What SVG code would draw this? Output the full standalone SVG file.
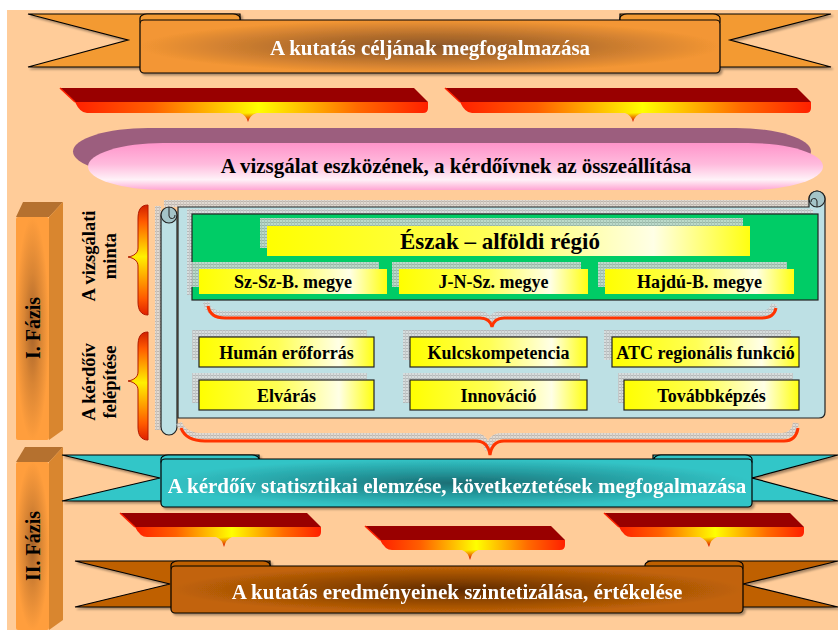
<svg xmlns="http://www.w3.org/2000/svg" width="838" height="633" viewBox="0 0 838 633">
<defs>
  <pattern id="tex" width="3" height="3" patternUnits="userSpaceOnUse">
    <rect width="3" height="3" fill="#DCDCDC"/>
    <rect width="3" height="1" fill="#B2B2B2"/>
    <rect width="1" height="3" fill="#C4C4C4"/>
  </pattern>
  <radialGradient id="gOrange" cx="0.5" cy="0.5" r="0.5">
    <stop offset="0" stop-color="#8A5628"/>
    <stop offset="0.45" stop-color="#B46E2C"/>
    <stop offset="1" stop-color="#F39634"/>
  </radialGradient>
  <radialGradient id="gTeal" cx="0.5" cy="0.5" r="0.5">
    <stop offset="0" stop-color="#1A6E74"/>
    <stop offset="0.45" stop-color="#24979B"/>
    <stop offset="1" stop-color="#33C4C6"/>
  </radialGradient>
  <radialGradient id="gBrown" cx="0.5" cy="0.5" r="0.5">
    <stop offset="0" stop-color="#5E2A00"/>
    <stop offset="0.45" stop-color="#8E4502"/>
    <stop offset="1" stop-color="#C26408"/>
  </radialGradient>
  <radialGradient id="gPhase" cx="0.5" cy="0.5" r="0.5">
    <stop offset="0" stop-color="#A5622A"/>
    <stop offset="0.5" stop-color="#D98534"/>
    <stop offset="1" stop-color="#FF9E3D"/>
  </radialGradient>
  <linearGradient id="gPink" x1="0" y1="0" x2="0" y2="1">
    <stop offset="0" stop-color="#FF94CA"/>
    <stop offset="0.45" stop-color="#FFBBDD"/>
    <stop offset="0.78" stop-color="#FFF2F8"/>
    <stop offset="1" stop-color="#FFA6D3"/>
  </linearGradient>
  <linearGradient id="gYellow" x1="0" y1="0" x2="1" y2="0">
    <stop offset="0" stop-color="#FFFF00"/>
    <stop offset="0.45" stop-color="#FFFF55"/>
    <stop offset="0.8" stop-color="#FFFFE6"/>
    <stop offset="1" stop-color="#FFFF10"/>
  </linearGradient>
  <linearGradient id="gBarF" x1="0" y1="0" x2="1" y2="0">
    <stop offset="0" stop-color="#FF2000"/>
    <stop offset="0.22" stop-color="#FF6000"/>
    <stop offset="0.52" stop-color="#FFFF00"/>
    <stop offset="0.8" stop-color="#FF6A00"/>
    <stop offset="1" stop-color="#FF2000"/>
  </linearGradient>
  <linearGradient id="gPtr" x1="0" y1="0" x2="0" y2="1">
    <stop offset="0" stop-color="#FFEE00"/>
    <stop offset="1" stop-color="#D80000"/>
  </linearGradient>
  <linearGradient id="gBrace" x1="0" y1="0" x2="0" y2="1">
    <stop offset="0" stop-color="#D02000"/>
    <stop offset="0.15" stop-color="#FF5A00"/>
    <stop offset="0.47" stop-color="#FFF000"/>
    <stop offset="0.85" stop-color="#FF5A00"/>
    <stop offset="1" stop-color="#E02000"/>
  </linearGradient>
  <filter id="ds" x="-5%" y="-10%" width="110%" height="130%">
    <feDropShadow dx="2" dy="2" stdDeviation="1" flood-color="#000" flood-opacity="0.35"/>
  </filter>
  <style>
    .otail{fill:#F39A33;stroke:#000;stroke-width:1.2}
    .ttail{fill:#33C6C8;stroke:#000;stroke-width:1.2}
    .btail{fill:#BF6100;stroke:#000;stroke-width:1.2}
    .rtxt{font-family:"Liberation Serif","Times New Roman",serif;font-weight:bold;font-size:21px;fill:#FFFFFF;text-anchor:middle}
    .btxt{font-family:"Liberation Serif","Times New Roman",serif;font-weight:bold;font-size:18px;fill:#000;text-anchor:middle}
    .ltxt{font-family:"Liberation Serif","Times New Roman",serif;font-weight:bold;font-size:18.5px;fill:#000;text-anchor:middle}
    .ptxt{font-family:"Liberation Serif","Times New Roman",serif;font-weight:bold;font-size:20px;fill:#000;text-anchor:middle}
    .ybox{fill:url(#gYellow)}
    .ybox2{fill:url(#gYellow);stroke:#222;stroke-width:1.2}
    .shd{fill:url(#tex);opacity:0.85}
    .topf{fill:#990000}
    .frontf{fill:url(#gBarF)}
    .ptr{fill:url(#gPtr)}
    .brace{fill:none;stroke:#FF3300;stroke-width:3}
    .braceS{fill:none;stroke:url(#tex);stroke-width:6;opacity:0.85}
    .obrace{fill:url(#gBrace);stroke:#B01800;stroke-width:1}
  </style>
</defs>

<rect x="0" y="0" width="838" height="633" fill="#FFFFFF"/>
<rect x="7" y="10" width="831" height="620" fill="#FFCC99"/>

<!-- top ribbon -->
<g id="n-cel" filter="url(#ds)">
  <polygon class="otail" points="28,14 240,14 240,67 28,67 128,40"/>
  <polygon class="otail" points="831,14 620,14 620,67 831,67 730,40"/>
  <rect class="otail" x="140" y="14" width="100" height="12" rx="7" ry="4"/>
  <rect class="otail" x="620" y="14" width="100" height="12" rx="7" ry="4"/>
  <rect x="140" y="20" width="580" height="53" rx="4" fill="url(#gOrange)" stroke="#000" stroke-width="1.2"/>
  <text class="rtxt" x="430" y="55">A kutatás céljának megfogalmazása</text>
</g>

<!-- pink -->
<g id="n-eszkoz">
  <rect x="73" y="128" width="738" height="47" rx="75" ry="23.5" fill="#9C5E7E"/>
  <rect x="88" y="143" width="735" height="47" rx="75" ry="23.5" fill="url(#gPink)"/>
  <text class="ltxt" style="font-size:21px" x="456" y="173">A vizsgálat eszközének, a kérdőívnek az összeállítása</text>
</g>

<!-- phase bars -->
<g id="n-fazis1">
  <polygon points="16,217 23,202 63,202 49,217" fill="#B5712F"/>
  <polygon points="49,217 63,202 63,430 49,440" fill="#D9862F"/>
  <rect x="16" y="217" width="33" height="223" rx="2" fill="url(#gPhase)"/>
  <text class="ptxt" transform="translate(40,328) rotate(-90)">I. Fázis</text>
</g>
<g id="n-fazis2">
  <polygon points="16,462 25,447 63,447 49,462" fill="#B5712F"/>
  <polygon points="49,462 63,447 63,620 49,630" fill="#D9862F"/>
  <rect x="16" y="462" width="33" height="168" rx="2" fill="url(#gPhase)"/>
  <text class="ptxt" transform="translate(40,546) rotate(-90)">II. Fázis</text>
</g>

<!-- side labels -->
<g id="n-minta">
  <text class="ltxt" transform="translate(95,256) rotate(-90)">A vizsgálati</text>
  <text class="ltxt" transform="translate(116,256) rotate(-90)">minta</text>
</g>
<g id="n-felepites">
  <text class="ltxt" transform="translate(95,382) rotate(-90)">A kérdőív</text>
  <text class="ltxt" transform="translate(116,382) rotate(-90)">felépítése</text>
</g>

<!-- scroll -->
<g id="n-scroll">
  <rect class="shd" x="164" y="200" width="650" height="7"/>
  <rect class="shd" x="155" y="206" width="6" height="224"/>
  <path d="M178,207 L809,207 L809,199 A8,8 0 0 1 825,199 L825,412 Q825,418 819,418 L178,418 Z" fill="#BDE0E4" stroke="#222" stroke-width="1.2"/>
  <circle cx="817" cy="199" r="8" fill="#A4C4C8" stroke="#222" stroke-width="1.2"/>
  <path d="M817,207 L817,201 A3,3 0 0 0 811,202" fill="none" stroke="#222" stroke-width="1"/>
  <path d="M161,215 L161,427 A8,8 0 0 0 177,427 L177,215 Z" fill="#BDE0E4" stroke="#222" stroke-width="1.2"/>
  <circle cx="169" cy="215" r="8" fill="#A4C4C8" stroke="#222" stroke-width="1.2"/>
  <path d="M169,207 L169,216 A3,3 0 0 0 175,215" fill="none" stroke="#222" stroke-width="1"/>
</g>

<!-- green region -->
<g id="n-region">
  <rect class="shd" x="187" y="209" width="626" height="86"/>
  <rect x="192" y="214" width="626" height="86" fill="#00CC66" stroke="#222" stroke-width="1.2"/>
</g>
<g id="n-eszak">
  <rect class="shd" x="260" y="218" width="483" height="30"/>
  <rect class="ybox" x="267" y="226" width="483" height="30"/>
  <text class="btxt" style="font-size:23px" x="500" y="249">Észak – alföldi régió</text>
</g>
<g id="n-szszb">
  <rect class="shd" x="191" y="262" width="188" height="25"/>
  <rect class="ybox" x="199" y="269" width="188" height="25"/>
  <text class="btxt" x="293" y="288">Sz-Sz-B. megye</text>
</g>
<g id="n-jnsz">
  <rect class="shd" x="392" y="262" width="189" height="25"/>
  <rect class="ybox" x="399" y="269" width="189" height="25"/>
  <text class="btxt" x="493.5" y="288">J-N-Sz. megye</text>
</g>
<g id="n-hajdu">
  <rect class="shd" x="598" y="262" width="189" height="25"/>
  <rect class="ybox" x="605" y="269" width="189" height="25"/>
  <text class="btxt" x="699.5" y="288">Hajdú-B. megye</text>
</g>

<g id="n-human">
  <rect class="shd" x="192" y="330" width="175" height="30"/>
  <rect class="ybox2" x="199" y="337" width="175" height="30"/>
  <text class="btxt" x="286.5" y="358.5">Humán erőforrás</text>
</g>
<g id="n-kulcs">
  <rect class="shd" x="403" y="330" width="177" height="30"/>
  <rect class="ybox2" x="410" y="337" width="177" height="30"/>
  <text class="btxt" x="498.5" y="358.5">Kulcskompetencia</text>
</g>
<g id="n-atc">
  <rect class="shd" x="604" y="330" width="187" height="30"/>
  <rect class="ybox2" x="612" y="337" width="187" height="30"/>
  <text class="btxt" x="705.5" y="358.5">ATC regionális funkció</text>
</g>
<g id="n-elvaras">
  <rect class="shd" x="192" y="373" width="175" height="30"/>
  <rect class="ybox2" x="199" y="380" width="175" height="30"/>
  <text class="btxt" x="286.5" y="401.5">Elvárás</text>
</g>
<g id="n-innovacio">
  <rect class="shd" x="403" y="373" width="177" height="30"/>
  <rect class="ybox2" x="410" y="380" width="177" height="30"/>
  <text class="btxt" x="498.5" y="401.5">Innováció</text>
</g>
<g id="n-tovabb">
  <rect class="shd" x="618" y="373" width="175" height="30"/>
  <rect class="ybox2" x="624" y="380" width="175" height="30"/>
  <text class="btxt" x="711.5" y="401.5">Továbbképzés</text>
</g>

<!-- teal ribbon -->
<g id="n-elemzes" filter="url(#ds)">
  <polygon class="ttail" points="62,455 259,455 259,501 62,501 160,478"/>
  <polygon class="ttail" points="838,455 653,455 653,501 838,501 752,478"/>
  <rect class="ttail" x="161" y="455" width="98" height="11" rx="7" ry="4"/>
  <rect class="ttail" x="654" y="455" width="98" height="11" rx="7" ry="4"/>
  <rect x="161" y="459" width="591" height="48" rx="4" fill="url(#gTeal)" stroke="#000" stroke-width="1.2"/>
  <text class="rtxt" x="457" y="493">A kérdőív statisztikai elemzése, következtetések megfogalmazása</text>
</g>

<!-- brown ribbon -->
<g id="n-szintezis" filter="url(#ds)">
  <polygon class="btail" points="75,561 270,561 270,607 75,607 170,584"/>
  <polygon class="btail" points="838,561 648,561 648,607 838,607 743,584"/>
  <rect class="btail" x="171" y="561" width="99" height="11" rx="7" ry="4"/>
  <rect class="btail" x="645" y="561" width="98" height="11" rx="7" ry="4"/>
  <rect x="171" y="566" width="572" height="47" rx="4" fill="url(#gBrown)" stroke="#000" stroke-width="1.2"/>
  <text class="rtxt" x="457" y="599">A kutatás eredményeinek szintetizálása, értékelése</text>
</g>

<!-- connectors -->
<g id="connectors">
  <g>
    <path class="topf" d="M60,88 L414,88 L428,102 L75,102 Z"/>
    <path class="frontf" d="M75,102 L428,102 L428,108 Q428,113 423,113 L87,113 Q80,113 75,102 Z"/>
    <path class="ptr" d="M240,113 Q246,115 248,122 Q250,115 257,113 Z"/>
    <path d="M60,88 L75,102" stroke="#FF2200" stroke-width="1.5" fill="none"/>
  </g>
  <g>
    <path class="topf" d="M445,88 L797,88 L811,102 L460,102 Z"/>
    <path class="frontf" d="M460,102 L811,102 L811,108 Q811,113 806,113 L472,113 Q465,113 460,102 Z"/>
    <path class="ptr" d="M625,113 Q631,115 633,122 Q635,115 642,113 Z"/>
    <path d="M445,88 L460,102" stroke="#FF2200" stroke-width="1.5" fill="none"/>
  </g>
  <g>
    <path class="topf" d="M120,513 L307,513 L321,527 L135,527 Z"/>
    <path class="frontf" d="M135,527 L321,527 L321,532 Q321,537 316,537 L147,537 Q140,537 135,527 Z"/>
    <path class="ptr" d="M216,537 Q222,539 224,547 Q226,539 232,537 Z"/>
    <path d="M120,513 L135,527" stroke="#FF2200" stroke-width="1.5" fill="none"/>
  </g>
  <g>
    <path class="topf" d="M365,526 L551,526 L565,540 L380,540 Z"/>
    <path class="frontf" d="M380,540 L565,540 L565,545 Q565,550 560,550 L392,550 Q385,550 380,540 Z"/>
    <path class="ptr" d="M462,550 Q468,552 470,560 Q472,552 478,550 Z"/>
    <path d="M365,526 L380,540" stroke="#FF2200" stroke-width="1.5" fill="none"/>
  </g>
  <g>
    <path class="topf" d="M604,513 L790,513 L804,527 L619,527 Z"/>
    <path class="frontf" d="M619,527 L804,527 L804,532 Q804,537 799,537 L631,537 Q624,537 619,527 Z"/>
    <path class="ptr" d="M700,537 Q706,539 709,547 Q711,539 717,537 Z"/>
    <path d="M604,513 L619,527" stroke="#FF2200" stroke-width="1.5" fill="none"/>
  </g>
  <path class="obrace" d="M148,205 C140,205 138,211 138,219 L138,248 C138,253 134,256 128,257 C134,258 138,261 138,266 L138,302 C138,310 141,315 148,315 Z"/>
  <path class="obrace" d="M148,332 C140,332 138,338 138,346 L138,372 C138,377 134,380 128,381 C134,382 138,385 138,390 L138,427 C138,435 141,440 148,440 Z"/>
  <path class="braceS" d="M206,302 Q208,314 223,314 L478,314 Q488,314 490,323 Q492,314 502,314 L760,314 Q772,314 774,304"/>
  <path class="brace" d="M208,306 Q210,318 225,318 L480,318 Q490,318 492,327 Q494,318 504,318 L762,318 Q774,318 776,308"/>
  <path class="braceS" d="M179,423 Q184,436 203,436 L474,436 Q486,436 488,450 Q490,436 502,436 L782,436 Q794,436 796,423"/>
  <path class="brace" d="M181,428 Q186,441 205,441 L476,441 Q488,441 490,455 Q492,441 504,441 L784,441 Q796,441 798,428"/>
</g>
</svg>
